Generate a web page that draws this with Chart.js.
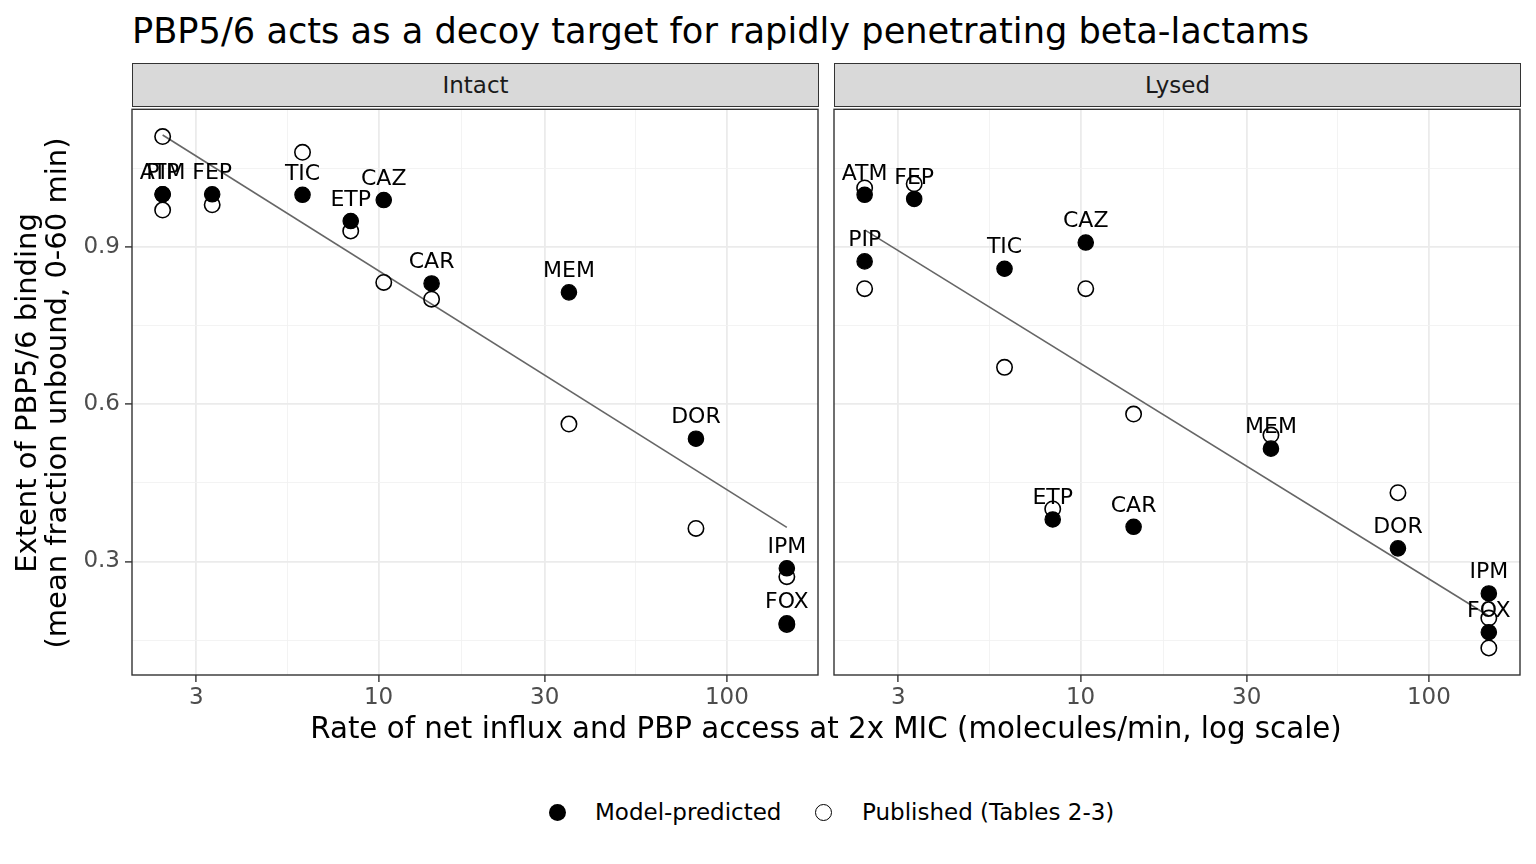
<!DOCTYPE html>
<html><head><meta charset="utf-8">
<script src="https://cdn.jsdelivr.net/npm/chart.js@4.4.1/dist/chart.umd.min.js"></script>
<style>
html,body{margin:0;padding:0;background:#fff;}
body{width:1536px;height:864px;position:relative;overflow:hidden;font-family:"DejaVu Sans",sans-serif;}
.abs{position:absolute;white-space:nowrap;}
#title{left:132px;top:13px;font-size:35.2px;line-height:35px;color:#000;}
.strip{position:absolute;top:63px;height:44px;background:#D9D9D9;border:1.4px solid #333;box-sizing:border-box;font-size:23px;color:#1A1A1A;display:flex;align-items:center;justify-content:center;}
#xtitle{left:126px;width:1400px;top:714px;font-size:29.3px;line-height:29px;text-align:center;color:#000;}
#ytitle{left:-259px;top:363px;width:600px;height:60px;font-size:29px;line-height:30px;text-align:center;color:#000;transform:rotate(-90deg);}
.lgtext{font-size:23px;line-height:23px;top:801px;color:#000;}
.dot{position:absolute;width:17px;height:17px;border-radius:50%;box-sizing:border-box;top:803.5px;}
canvas{position:absolute;}
</style>
</head>
<body>
<div id="title" class="abs">PBP5/6 acts as a decoy target for rapidly penetrating beta-lactams</div>
<div class="strip" style="left:132px;width:687px;">Intact</div>
<div class="strip" style="left:834px;width:687px;">Lysed</div>
<canvas id="c1" width="830" height="620" style="left:0px;top:100px;width:830px;height:620px;"></canvas>
<canvas id="c2" width="706" height="620" style="left:824px;top:100px;width:706px;height:620px;"></canvas>
<div id="xtitle" class="abs">Rate of net influx and PBP access at 2x MIC (molecules/min, log scale)</div>
<div id="ytitle" class="abs">Extent of PBP5/6 binding<br>(mean fraction unbound, 0-60 min)</div>
<div class="dot" style="left:548.5px;background:#000;"></div>
<div class="abs lgtext" style="left:595px;">Model-predicted</div>
<div class="dot" style="left:814.5px;border:1.5px solid #000;"></div>
<div class="abs lgtext" style="left:862px;">Published (Tables 2-3)</div>
<script>
// ---- data ----
const drugs = ['ATM','PIP','FEP','TIC','ETP','CAZ','CAR','MEM','DOR','IPM','FOX'];
const rateX = [2.40, 2.40, 3.33, 6.05, 8.32, 10.35, 14.2, 35.2, 81.5, 148.6, 148.6];
const intactModel     = [1.000, 1.000, 1.000, 0.999, 0.949, 0.989, 0.830, 0.813, 0.534, 0.287, 0.182];
const intactPublished = [1.110, 0.970, 0.980, 1.080, 0.930, 0.832, 0.800, 0.562, 0.363, 0.271, 0.180];
const lysedModel      = [0.999, 0.872, 0.991, 0.858, 0.380, 0.908, 0.366, 0.515, 0.325, 0.239, 0.165];
const lysedPublished  = [1.012, 0.820, 1.020, 0.670, 0.400, 0.820, 0.581, 0.541, 0.431, 0.192, 0.135];
const fitRateX  = [2.40, 148.6];
const intactFitY = [1.113, 0.365];
const lysedFitY  = [0.932, 0.196];
const xMajorTicks = [3, 10, 30, 100];
const xMinorTicks = [5.48, 17.3, 54.8];
const yMajorTicks = [0.3, 0.6, 0.9];
const yMinorTicks = [0.15, 0.45, 0.75, 1.05];
const xRange = [1.96, 182.6];
const yRange = [0.0835, 1.162];

const FONT = '"DejaVu Sans", sans-serif';
const isMajorX = v => xMajorTicks.some(m => Math.abs(m - v) < 1e-9);
const isMajorY = v => yMajorTicks.some(m => Math.abs(m - v) < 1e-9);

const labelPlugin = {
  id: 'pointLabels',
  afterDatasetsDraw(chart) {
    const meta = chart.getDatasetMeta(2);
    const ctx = chart.ctx;
    ctx.save();
    ctx.font = '22px ' + FONT;
    ctx.fillStyle = '#000';
    ctx.textAlign = 'center';
    ctx.textBaseline = 'middle';
    meta.data.forEach((el, i) => { ctx.fillText(drugs[i], el.x, el.y - 21); });
    ctx.restore();
  }
};
const borderPlugin = {
  id: 'panelBorder',
  afterDraw(chart) {
    const a = chart.chartArea, ctx = chart.ctx;
    ctx.save();
    ctx.strokeStyle = '#333333';
    ctx.lineWidth = 1.4;
    ctx.strokeRect(a.left, a.top, a.right - a.left, a.bottom - a.top);
    ctx.restore();
  }
};
const noPad = s => { s.paddingTop = 0; s.paddingBottom = 0; s.paddingLeft = 0; s.paddingRight = 0; };

function makeChart(id, model, published, fitY, showY) {
  const pts = arr => arr.map((v, i) => ({x: rateX[i], y: v}));
  return new Chart(document.getElementById(id), {
    data: {
      datasets: [
        { type: 'line', data: fitRateX.map((x, i) => ({x: x, y: fitY[i]})),
          borderColor: '#666666', borderWidth: 1.6, pointRadius: 0, order: 3 },
        { type: 'scatter', data: pts(published), pointRadius: 7.7, pointBorderWidth: 1.6,
          pointBackgroundColor: 'rgba(0,0,0,0)', pointBorderColor: '#000', order: 2 },
        { type: 'scatter', data: pts(model), pointRadius: 7.7, pointBorderWidth: 1.2,
          pointBackgroundColor: '#000', pointBorderColor: '#000', order: 1 }
      ]
    },
    options: {
      responsive: false, animation: false,
      layout: { padding: { top: 7, right: showY ? 12 : 10, left: showY ? 0 : 10, bottom: 0 } },
      plugins: { legend: { display: false }, tooltip: { enabled: false } },
      scales: {
        x: {
          type: 'logarithmic', min: xRange[0], max: xRange[1],
          afterBuildTicks: s => { s.ticks = xMajorTicks.concat(xMinorTicks).sort((a,b)=>a-b).map(v => ({value: v})); },
          afterFit: s => { s.height = 45; noPad(s); },
          border: { display: false },
          grid: {
            color: c => (c.tick && isMajorX(c.tick.value)) ? '#EBEBEB' : '#F2F2F2',
            lineWidth: c => (c.tick && isMajorX(c.tick.value)) ? 1.8 : 0.9,
            tickColor: c => (c.tick && isMajorX(c.tick.value)) ? '#333333' : 'rgba(0,0,0,0)',
            tickWidth: 1.4, tickLength: 7
          },
          ticks: {
            autoSkip: false, maxRotation: 0, padding: 2, color: '#4D4D4D',
            font: { family: FONT, size: 23 },
            callback: v => isMajorX(v) ? String(v) : ''
          }
        },
        y: {
          type: 'linear', min: yRange[0], max: yRange[1],
          afterBuildTicks: s => { s.ticks = yMajorTicks.concat(yMinorTicks).sort((a,b)=>a-b).map(v => ({value: v})); },
          afterFit: s => { s.width = showY ? 132 : 0; noPad(s); },
          border: { display: false },
          grid: {
            color: c => (c.tick && isMajorY(c.tick.value)) ? '#EBEBEB' : '#F2F2F2',
            lineWidth: c => (c.tick && isMajorY(c.tick.value)) ? 1.8 : 0.9,
            drawTicks: showY,
            tickColor: c => (c.tick && isMajorY(c.tick.value)) ? '#333333' : 'rgba(0,0,0,0)',
            tickWidth: 1.4, tickLength: 7
          },
          ticks: {
            display: showY, autoSkip: false, padding: 5, color: '#4D4D4D',
            font: { family: FONT, size: 23 },
            callback: v => isMajorY(v) ? v.toFixed(1) : ''
          }
        }
      }
    },
    plugins: [labelPlugin, borderPlugin]
  });
}
makeChart('c1', intactModel, intactPublished, intactFitY, true);
makeChart('c2', lysedModel, lysedPublished, lysedFitY, false);
</script>
</body></html>
